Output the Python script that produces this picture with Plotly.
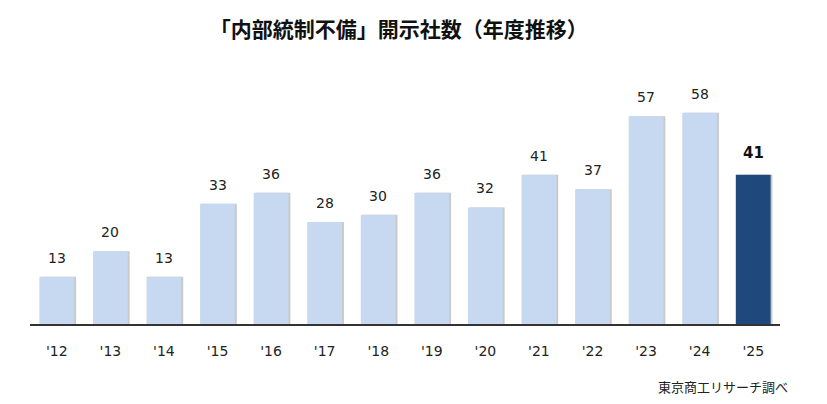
import plotly.graph_objects as go

years = ["'12", "'13", "'14", "'15", "'16", "'17", "'18", "'19", "'20", "'21", "'22", "'23", "'24", "'25"]
counts = [13, 20, 13, 33, 36, 28, 30, 36, 32, 41, 37, 57, 58, 41]

light = "#C6D9F0"
dark = "#1F497D"
colors = [light] * (len(years) - 1) + [dark]

fig = go.Figure()

# soft shadow on the right of each bar
fig.add_bar(x=years, y=counts, width=0.65, offset=-0.29,
            marker=dict(color="rgba(120,120,120,0.4)", line_width=0),
            hoverinfo="skip", showlegend=False)

fig.add_bar(x=years, y=counts, width=0.65, offset=-0.325,
            marker=dict(color=colors, line_width=0),
            showlegend=False)

# value labels above the bars, last year highlighted
for i, (yr, c) in enumerate(zip(years, counts)):
    last = i == len(years) - 1
    fig.add_annotation(x=yr, y=c, text=str(c), showarrow=False,
                       yanchor="bottom", yshift=9 if not last else 11,
                       font=dict(family="DejaVu Sans", size=15 if last else 14,
                                 color="#111" if last else "#222",
                                 weight="bold" if last else "normal"))

# page body keeps an 8px margin, so the figure is a bit smaller than the window
fig.update_layout(
    width=819, height=396,
    barmode="overlay",
    plot_bgcolor="white", paper_bgcolor="white",
    margin=dict(l=22, r=47, t=61, b=80),
    title=dict(text="「内部統制不備」開示社数（年度推移）",
               x=0.477, xanchor="center", y=0.945, yanchor="middle",
               font=dict(family="Noto Sans CJK JP", size=21, color="#111", weight="bold")),
    xaxis=dict(showline=True, linecolor="#333", linewidth=2, ticks="",
               tickfont=dict(family="DejaVu Sans", size=14, color="#222"),
               ticklabelstandoff=13, showgrid=False),
    yaxis=dict(range=[0, 70], visible=False, showgrid=False),
)

fig.add_annotation(text="東京商工リサーチ調べ", xref="paper", yref="paper",
                   x=1.013, y=-0.247, xanchor="right", yanchor="middle", showarrow=False,
                   font=dict(family="Noto Sans CJK JP", size=13, color="#222"))

fig.write_html("out.html")
